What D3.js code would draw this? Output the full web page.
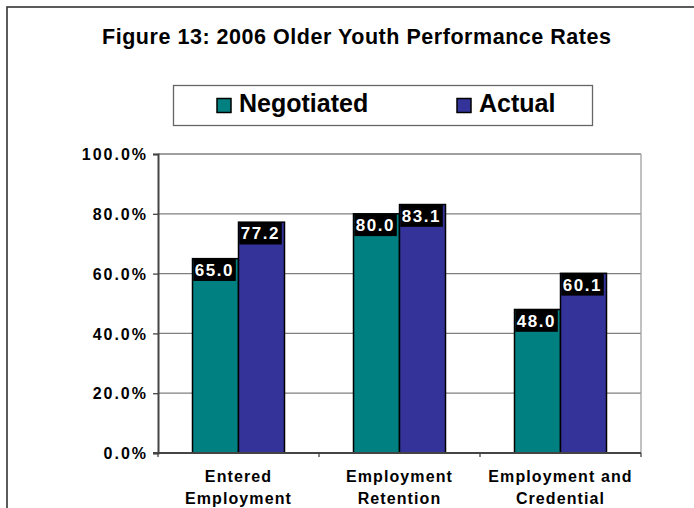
<!DOCTYPE html>
<html>
<head>
<meta charset="utf-8">
<script src="https://cdn.jsdelivr.net/npm/d3@7"></script>
<style>
  body { margin: 0; background: #fff; }
  svg { display: block; font-family: Arial, "Liberation Sans", sans-serif; }
</style>
</head>
<body>
<svg width="694" height="508"></svg>
<script>
// chart data
var categories = [["Entered", "Employment"], ["Employment", "Retention"], ["Employment and", "Credential"]];
var seriesNames = ["Negotiated", "Actual"];
var negotiated = [65.0, 80.0, 48.0];
var actual = [77.2, 83.1, 60.1];
var yTicks = [0, 20, 40, 60, 80, 100];

var colors = {"Negotiated": "#008080", "Actual": "#333399"};

var svg = d3.select("svg"),
    width = +svg.attr("width"),
    height = +svg.attr("height");

var plot = {left: 158, right: 641, top: 154, bottom: 453};

// outer chart border (runs off the right and bottom of the page)
svg.append("rect")
    .attr("x", 7).attr("y", 7)
    .attr("width", 800).attr("height", 600)
    .attr("fill", "none")
    .attr("stroke", "#333")
    .attr("stroke-width", 1.6);

svg.append("text")
    .attr("x", 356.5).attr("y", 44)
    .attr("text-anchor", "middle")
    .attr("font-size", 21.5).attr("font-weight", "bold")
    .attr("textLength", 509).attr("lengthAdjust", "spacing")
    .text("Figure 13: 2006 Older Youth Performance Rates");

// legend
var legend = svg.append("g");
legend.append("rect")
    .attr("x", 173.5).attr("y", 85.5)
    .attr("width", 419).attr("height", 40)
    .attr("fill", "#fff")
    .attr("stroke", "#666")
    .attr("stroke-width", 1.3);

var legendX = [217, 457];
legend.selectAll("g.item")
    .data(seriesNames)
    .enter().append("g")
    .attr("class", "item")
    .each(function(d, i) {
        var g = d3.select(this);
        g.append("rect")
            .attr("x", legendX[i]).attr("y", 98.5)
            .attr("width", 14).attr("height", 14)
            .attr("fill", colors[d])
            .attr("stroke", "#000").attr("stroke-width", 1.5);
        g.append("text")
            .attr("x", legendX[i] + 22).attr("y", 112)
            .attr("font-size", 25).attr("font-weight", "bold")
            .text(d);
    });

var x = d3.scaleBand()
    .domain(d3.range(categories.length))
    .range([plot.left, plot.right])
    .padding(0);

var xInner = d3.scaleBand()
    .domain(seriesNames)
    .range([0, x.bandwidth()])
    .paddingInner(0)
    .paddingOuter(0.75);

var y = d3.scaleLinear()
    .domain([0, 100])
    .range([plot.bottom, plot.top]);

// gridlines
svg.append("g")
    .selectAll("line")
    .data(yTicks.filter(function(d) { return d > 0; }))
    .enter().append("line")
    .attr("x1", plot.left).attr("x2", plot.right)
    .attr("y1", function(d) { return y(d); })
    .attr("y2", function(d) { return y(d); })
    .attr("stroke", "#808080")
    .attr("stroke-width", 1.3);

// right edge of plot area
svg.append("line")
    .attr("x1", plot.right).attr("x2", plot.right)
    .attr("y1", plot.top).attr("y2", plot.bottom)
    .attr("stroke", "#a0a0a0").attr("stroke-width", 1.3);

// bars
var rows = categories.map(function(c, i) {
    return {i: i, values: [{s: "Negotiated", v: negotiated[i]}, {s: "Actual", v: actual[i]}]};
});

var groups = svg.append("g")
    .selectAll("g")
    .data(rows)
    .enter().append("g")
    .attr("transform", function(d) { return "translate(" + x(d.i) + ",0)"; });

groups.selectAll("rect")
    .data(function(d) { return d.values; })
    .enter().append("rect")
    .attr("x", function(d) { return xInner(d.s); })
    .attr("y", function(d) { return y(d.v); })
    .attr("width", xInner.bandwidth())
    .attr("height", function(d) { return y(0) - y(d.v); })
    .attr("fill", function(d) { return colors[d.s]; })
    .attr("stroke", "#000")
    .attr("stroke-width", 1.5);

// y axis
var yAxis = d3.axisLeft(y)
    .tickValues(yTicks)
    .tickSize(5)
    .tickFormat(function(d) { return d.toFixed(1) + "%"; });

var yg = svg.append("g")
    .attr("transform", "translate(" + plot.left + ",0)")
    .call(yAxis);
yg.select(".domain").attr("stroke", "#444").attr("stroke-width", 2);
yg.selectAll(".tick line").attr("stroke", "#444").attr("stroke-width", 1.3);
yg.selectAll(".tick text")
    .attr("x", -10)
    .attr("dy", "0.36em")
    .attr("font-size", 16)
    .attr("font-weight", "bold")
    .attr("font-family", "Arial, 'Liberation Sans', sans-serif")
    .attr("fill", "#000")
    .style("letter-spacing", "2px");

// x axis with ticks at category boundaries
var xg = svg.append("g");
xg.append("line")
    .attr("x1", plot.left - 5).attr("x2", plot.right)
    .attr("y1", plot.bottom).attr("y2", plot.bottom)
    .attr("stroke", "#444").attr("stroke-width", 2);
xg.selectAll("line.tk")
    .data(d3.range(categories.length + 1))
    .enter().append("line")
    .attr("class", "tk")
    .attr("x1", function(d) { return plot.left + d * x.step(); })
    .attr("x2", function(d) { return plot.left + d * x.step(); })
    .attr("y1", plot.bottom).attr("y2", plot.bottom + 4)
    .attr("stroke", "#444").attr("stroke-width", 1.3);

xg.selectAll("text")
    .data(categories)
    .enter().append("text")
    .attr("text-anchor", "middle")
    .attr("font-size", 16)
    .attr("font-weight", "bold")
    .style("letter-spacing", "1.1px")
    .each(function(d, i) {
        var t = d3.select(this);
        d.forEach(function(line, j) {
            t.append("tspan")
                .attr("x", x(i) + x.bandwidth() / 2)
                .attr("y", 482 + j * 21.5)
                .text(line);
        });
    });

// data labels: white text in black boxes at bar tops
var labels = groups.selectAll("g.lbl")
    .data(function(d) { return d.values; })
    .enter().append("g")
    .attr("class", "lbl")
    .attr("transform", function(d) {
        return "translate(" + (xInner(d.s) + 0.8) + "," + (y(d.v) + 0.3) + ")";
    });

labels.append("rect")
    .attr("width", 42.5).attr("height", 22)
    .attr("fill", "#000");

labels.append("text")
    .attr("x", 1.5).attr("y", 17)
    .attr("font-size", 17)
    .attr("font-weight", "bold")
    .attr("fill", "#fff")
    .style("letter-spacing", "1.5px")
    .text(function(d) { return d.v.toFixed(1); });
</script>
</body>
</html>
